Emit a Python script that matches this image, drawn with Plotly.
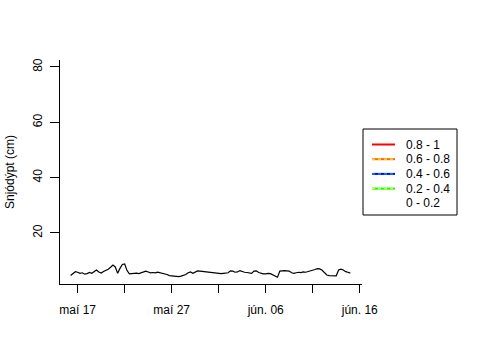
import plotly.graph_objects as go
import pandas as pd

# --- data ---------------------------------------------------------------
start_time = "2015-05-16 06:00"
step = "6h"
snow_depth_cm = [
    4.6, 5.4, 6.0, 5.8, 5.4, 5.6, 5.1, 5.3, 5.7, 5.4, 5.9, 6.6, 5.9, 5.5, 6.1, 6.4,
    6.9, 7.6, 8.4, 7.7, 5.4, 7.2, 8.6, 8.8, 6.4, 5.2, 5.3, 5.4, 5.5, 5.3, 5.6, 5.9,
    6.2, 5.9, 5.6, 5.7, 5.6, 5.8, 5.6, 5.5, 5.3, 5.0, 4.6, 4.5, 4.4, 4.3, 4.2, 4.4,
    4.6, 5.0, 5.6, 5.9, 5.4, 5.8, 6.3, 6.2, 6.1, 5.9, 5.8, 5.7, 5.6, 5.5, 5.4, 5.5,
    5.3, 5.4, 5.5, 5.6, 6.3, 6.2, 5.8, 5.9, 6.4, 6.0, 5.8, 5.7, 5.5, 5.4, 6.2, 6.3,
    5.7, 5.4, 5.2, 5.2, 5.4, 5.3, 4.9, 4.4, 4.0, 6.2, 6.4, 6.4, 6.3, 6.2, 5.6, 5.4,
    5.6, 5.8, 5.7, 5.9, 5.8, 6.0, 6.2, 6.5, 6.8, 7.1, 7.0, 6.5, 5.6, 4.8, 4.6, 4.5,
    4.5, 4.5, 6.6, 6.9, 6.6, 6.0, 5.8, 5.5,
]
times = pd.date_range(start=start_time, periods=len(snow_depth_cm), freq=step)

x_tick_dates = ["2015-05-17", "2015-05-22", "2015-05-27", "2015-06-01",
                "2015-06-06", "2015-06-11", "2015-06-16"]
x_tick_labels = ["maí 17", "", "maí 27", "", "jún. 06", "", "jún. 16"]
y_tick_vals = [20, 40, 60, 80]

legend_labels = ["0.8 - 1", "0.6 - 0.8", "0.4 - 0.6", "0.2 - 0.4", "0 - 0.2"]
legend_colors = ["#ff0000", "#ff6600", "#0000ff", "#00ff00", None]
legend_dots = [None, "#ffff00", "#00ccff", "#ffff00", None]

x_range = ["2015-05-15 02:53", "2015-06-16 05:46"]
y_range = [1.55, 82.5]

# --- figure -------------------------------------------------------------
FONT = "Liberation Sans, Arial, Helvetica, sans-serif"
W, H = 480, 360
L, R, T, B = 60, 118, 60, 76
pw, ph = W - L - R, H - T - B


def px(xp):
    return (xp - L) / pw


def py(yp):
    return (H - B - yp) / ph


fig = go.Figure()
fig.add_trace(go.Scatter(x=times, y=snow_depth_cm, mode="lines",
                         line=dict(color="black", width=1.2), showlegend=False,
                         hoverinfo="skip"))

shapes = []
annotations = []
# legend box
shapes.append(dict(type="rect", xref="paper", yref="paper",
                   x0=px(363), x1=px(457), y0=py(215), y1=py(129),
                   line=dict(color="black", width=1), fillcolor="white"))
row0, row_gap = 144.5, 14.7
for i, (lab, col, dot) in enumerate(zip(legend_labels, legend_colors, legend_dots)):
    yy = row0 + i * row_gap
    if col is not None:
        shapes.append(dict(type="line", xref="paper", yref="paper",
                           x0=px(372), x1=px(395), y0=py(yy), y1=py(yy),
                           line=dict(color=col, width=2)))
    if dot is not None:
        shapes.append(dict(type="line", xref="paper", yref="paper",
                           x0=px(372), x1=px(395), y0=py(yy), y1=py(yy),
                           line=dict(color=dot, width=1, dash="dot")))
    annotations.append(dict(text=lab, xref="paper", yref="paper",
                            x=px(404), y=py(yy), xanchor="left", yanchor="middle",
                            showarrow=False, font=dict(size=12, color="black", family=FONT)))

fig.update_layout(
    width=W, height=H,
    margin=dict(l=L, r=R, t=T, b=B, pad=0, autoexpand=False),
    paper_bgcolor="white", plot_bgcolor="white",
    font=dict(family=FONT, size=12, color="black"),
    shapes=shapes, annotations=annotations,
    showlegend=False,
)
fig.update_xaxes(type="date", range=x_range, tickmode="array",
                 tickvals=x_tick_dates, ticktext=x_tick_labels, automargin=False,
                 showgrid=False, zeroline=False, showline=True,
                 linecolor="black", linewidth=1, ticks="outside",
                 ticklen=8, tickcolor="black", tickwidth=1, ticklabelstandoff=7,
                 tickfont=dict(size=12, family=FONT, color="black"))
fig.update_yaxes(range=y_range, tickmode="array", tickvals=y_tick_vals, automargin=False,
                 showgrid=False, zeroline=False, showline=True,
                 linecolor="black", linewidth=1, ticks="outside",
                 ticklen=9, tickcolor="black", tickwidth=1, tickangle=-90,
                 ticklabelstandoff=3,
                 tickfont=dict(size=12, family=FONT, color="black"),
                 title=dict(text="Snjódýpt (cm)", standoff=14,
                            font=dict(size=12, family=FONT, color="black")))

fig.write_html("out.html", config={"displayModeBar": False},
               post_script="document.body.style.margin='0';document.body.style.overflow='hidden';")
